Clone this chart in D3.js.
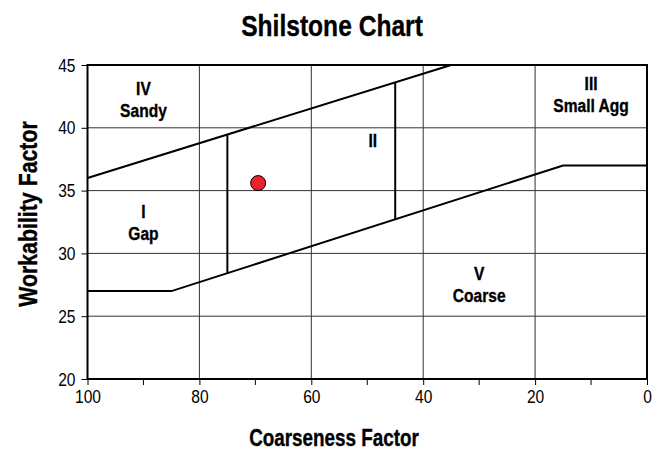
<!DOCTYPE html>
<html>
<head>
<meta charset="utf-8">
<script src="https://cdn.jsdelivr.net/npm/d3@7"></script>
<style>
  html, body { margin: 0; padding: 0; background: #fff; }
  svg { display: block; }
  text { font-family: "Liberation Sans", Arial, sans-serif; fill: #000; }
  text.heavy { stroke: #000; stroke-width: 0.35px; }
</style>
</head>
<body>
<svg id="chart" width="652" height="450"></svg>
<script>
// Shilstone coarseness / workability chart data
const xTicks = [100, 80, 60, 40, 20, 0];
const xMinorTicks = [90, 70, 50, 30, 10];
const yTicks = [20, 25, 30, 35, 40, 45];

// Zone boundaries: [coarseness, workability]
const upperBoundary = [[100, 36], [35, 45]];
const lowerBoundary = [[100, 27], [85, 27], [15, 37], [0, 37]];
const dividerAt75 = [[75, 39.46], [75, 28.43]];
const dividerAt45 = [[45, 43.62], [45, 32.71]];

// Mix result
const mixPoint = { coarseness: 69.5, workability: 35.6 };

// Zone labels: anchor in data units, one or two lines
const zoneLabels = [
  { x: 90, y: 42.61, lines: ["IV", "Sandy"] },
  { x: 90, y: 32.82, lines: ["I", "Gap"] },
  { x: 49, y: 38.47, lines: ["II"] },
  { x: 10, y: 43.0, lines: ["III", "Small Agg"] },
  { x: 30, y: 27.88, lines: ["V", "Coarse"] }
];

const NARROW = 0.82; // horizontal squeeze for a condensed look

const svg = d3.select("#chart");
const plot = { left: 87.5, right: 647, top: 65, bottom: 379 };

const x = d3.scaleLinear().domain([100, 0]).range([plot.left, plot.right]);
const y = d3.scaleLinear().domain([20, 45]).range([plot.bottom, plot.top]);

// Condensed bold text placed at (px, py), rotated by angle degrees
function condensedText(px, py, size, angle) {
  return svg.append("text")
    .attr("class", "heavy")
    .attr("transform", `translate(${px},${py}) rotate(${angle || 0}) scale(${NARROW},1)`)
    .attr("text-anchor", "middle")
    .style("font-size", size + "px")
    .style("font-weight", "bold");
}

// Title
condensedText(332, 36, 30).text("Shilstone Chart");

// Grid
const grid = svg.append("g");
grid.selectAll(".vg").data(xTicks.filter(d => d !== 100 && d !== 0)).enter()
  .append("line")
  .attr("x1", d => x(d)).attr("x2", d => x(d))
  .attr("y1", plot.top).attr("y2", plot.bottom)
  .attr("stroke", "#333").attr("stroke-width", 1);
grid.selectAll(".hg").data(yTicks.filter(d => d !== 20 && d !== 45)).enter()
  .append("line")
  .attr("x1", plot.left).attr("x2", plot.right)
  .attr("y1", d => y(d)).attr("y2", d => y(d))
  .attr("stroke", "#333").attr("stroke-width", 1);

// Zone boundary lines
const line = d3.line().x(d => x(d[0])).y(d => y(d[1]));
[upperBoundary, lowerBoundary, dividerAt75, dividerAt45].forEach(pts => {
  svg.append("path")
    .attr("d", line(pts))
    .attr("fill", "none")
    .attr("stroke", "#000")
    .attr("stroke-width", 2);
});

// Plot frame
svg.append("rect")
  .attr("x", plot.left).attr("y", plot.top)
  .attr("width", plot.right - plot.left).attr("height", plot.bottom - plot.top)
  .attr("fill", "none").attr("stroke", "#000").attr("stroke-width", 2);

// Axes
const xAxis = svg.append("g").attr("transform", `translate(0,${plot.bottom})`)
  .call(d3.axisBottom(x).tickValues(xTicks).tickSize(6).tickPadding(5).tickFormat(d3.format("d")));
xAxis.append("g").selectAll("line").data(xMinorTicks).enter().append("line")
  .attr("x1", d => x(d)).attr("x2", d => x(d)).attr("y1", 0).attr("y2", 6)
  .attr("stroke", "#000").attr("stroke-width", 1);

const yAxis = svg.append("g").attr("transform", `translate(${plot.left},0)`)
  .call(d3.axisLeft(y).tickValues(yTicks).tickSize(6).tickPadding(6).tickFormat(d3.format("d")));

[xAxis, yAxis].forEach(g => {
  g.select(".domain").remove();
  g.selectAll(".tick line").attr("stroke", "#000").attr("stroke-width", 1);
  g.selectAll(".tick text")
    .style("font-size", "19px")
    .style("font-family", "'Liberation Sans', Arial, sans-serif")
    .attr("fill", "#000");
});
xAxis.selectAll(".tick text").attr("transform", `scale(${NARROW},1)`);
yAxis.selectAll(".tick text")
  .attr("x", function() { return +d3.select(this).attr("x") / NARROW; })
  .attr("transform", `scale(${NARROW},1)`);

// Axis titles
condensedText(334, 446, 23).text("Coarseness Factor");
condensedText(37, 214, 26, -90).text("Workability Factor");

// Zone labels
zoneLabels.forEach(l => {
  const t = condensedText(x(l.x), y(l.y), 19);
  l.lines.forEach((s, i) => {
    t.append("tspan").attr("x", 0).attr("dy", i === 0 ? 0 : 22).text(s);
  });
});

// Mix point
svg.append("circle")
  .attr("cx", x(mixPoint.coarseness)).attr("cy", y(mixPoint.workability))
  .attr("r", 7.5)
  .attr("fill", "#e8232b").attr("stroke", "#000").attr("stroke-width", 1);
</script>
</body>
</html>
